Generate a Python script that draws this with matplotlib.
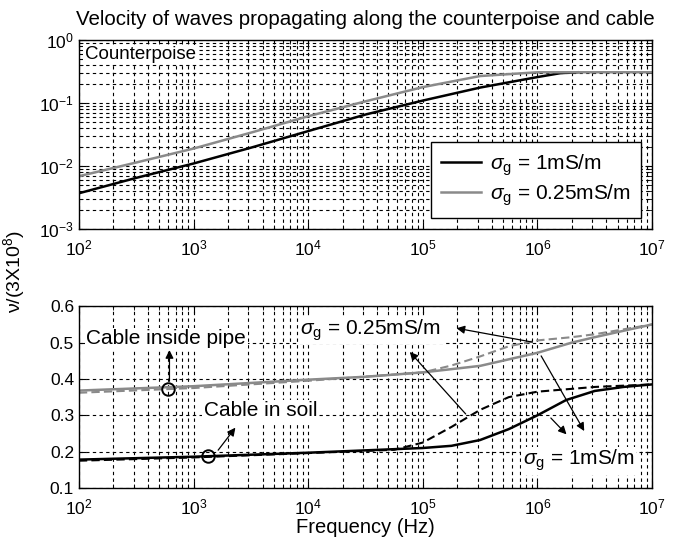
import numpy as np
import matplotlib
matplotlib.use("Agg")
import matplotlib.pyplot as plt

plt.rcParams['font.family'] = ['Liberation Sans', 'DejaVu Sans']
plt.rcParams['mathtext.fontset'] = 'custom'
plt.rcParams['mathtext.rm'] = 'Liberation Sans'
plt.rcParams['mathtext.it'] = 'Liberation Sans:italic'
plt.rcParams['mathtext.sf'] = 'Liberation Sans'

# ---- data ----
# Top panel: counterpoise
f_cp_1 = [1e2, 10**2.5, 1e3, 10**3.5, 1e4, 10**4.5, 1e5, 10**5.5, 1e6, 10**6.2, 10**6.35]
v_cp_1 = [0.0037, 0.0065, 0.011, 0.0196, 0.036, 0.066, 0.11, 0.177, 0.26, 0.30, 0.31]
f_cp_025 = [1e2, 10**2.5, 1e3, 10**3.5, 1e4, 10**4.5, 1e5, 10**5.5, 1e6, 1e7]
v_cp_025 = [0.0069, 0.0114, 0.019, 0.034, 0.062, 0.107, 0.18, 0.27, 0.31, 0.31]

# Bottom panel: cable inside pipe (grey) and cable in soil (black)
f_pipe_1 = [1e2, 1e3, 1e4, 10**4.5, 1e5, 10**5.5, 1e6, 10**6.3, 10**6.5, 1e7]
v_pipe_1 = [0.368, 0.38, 0.398, 0.406, 0.418, 0.436, 0.472, 0.50, 0.515, 0.550]
f_pipe_025 = [1e2, 1e3, 1e4, 1e5, 10**5.25, 10**5.5, 10**5.75, 1e6, 10**6.3, 10**6.5, 1e7]
v_pipe_025 = [0.362, 0.375, 0.395, 0.418, 0.437, 0.462, 0.490, 0.506, 0.515, 0.523, 0.550]
f_soil_1 = [1e2, 1e3, 1e4, 1e5, 10**5.25, 10**5.5, 10**5.75, 1e6, 10**6.25, 10**6.5, 10**6.75, 1e7]
v_soil_1 = [0.178, 0.186, 0.197, 0.21, 0.216, 0.232, 0.262, 0.30, 0.342, 0.367, 0.378, 0.385]
f_soil_025 = [1e2, 1e3, 1e4, 10**4.75, 1e5, 10**5.25, 10**5.5, 10**5.75, 1e6, 10**6.5, 1e7]
v_soil_025 = [0.175, 0.184, 0.196, 0.205, 0.225, 0.268, 0.315, 0.350, 0.365, 0.378, 0.385]

title = "Velocity of waves propagating along the counterpoise and cable"
leg_labels = [r"$\sigma_\mathrm{g}$ = 1mS/m", r"$\sigma_\mathrm{g}$ = 0.25mS/m"]
bottom_yticks = [0.1, 0.2, 0.3, 0.4, 0.5, 0.6]

GREY = '#8a8a8a'
grid_kw = dict(color='black', linestyle=(0, (3, 3)), linewidth=0.8)

fig = plt.figure(figsize=(6.8, 5.44), dpi=100)
ax1 = fig.add_axes([0.116, 0.579, 0.843, 0.347])
ax2 = fig.add_axes([0.116, 0.103, 0.843, 0.334])

for ax in (ax1, ax2):
    ax.set_xscale('log')
    ax.set_xlim(1e2, 1e7)
    ax.tick_params(which='both', direction='in', top=True, right=True, labelsize=12.5)
    ax.tick_params(axis='x', which='major', pad=7)
    ax.tick_params(which='major', length=5)
    ax.tick_params(which='minor', length=3)
    for s in ax.spines.values():
        s.set_linewidth(1.0)

# top panel
ax1.set_yscale('log')
ax1.set_ylim(1e-3, 1e0)
ax1.grid(True, which='both', **grid_kw)
l1, = ax1.plot(f_cp_1, v_cp_1, color='black', lw=1.8)
l2, = ax1.plot(f_cp_025, v_cp_025, color=GREY, lw=1.8)
ax1.set_title(title, fontsize=14.8, pad=11)
ax1.text(0.01, 0.925, "Counterpoise", transform=ax1.transAxes, fontsize=13.5,
         va='center', ha='left', bbox=dict(facecolor='white', edgecolor='none', pad=1))
leg = ax1.legend([l1, l2], leg_labels, loc='lower right', bbox_to_anchor=(0.981, 0.058),
                 borderaxespad=0, fontsize=15, fancybox=False, edgecolor='black', framealpha=1,
                 handlelength=1.9, handletextpad=0.45, borderpad=0.5, labelspacing=0.2)
leg.get_frame().set_linewidth(1.0)

# bottom panel
ax2.set_ylim(0.1, 0.6)
ax2.set_yticks(bottom_yticks)
ax2.set_yticklabels([f"{t:.1f}" for t in bottom_yticks])
ax2.grid(True, which='major', axis='y', **grid_kw)
ax2.grid(True, which='both', axis='x', **grid_kw)
ax2.plot(f_pipe_1, v_pipe_1, color=GREY, lw=1.8)
ax2.plot(f_pipe_025, v_pipe_025, color=GREY, lw=1.5, linestyle=(0, (4, 2)))
ax2.plot(f_soil_1, v_soil_1, color='black', lw=1.8)
ax2.plot(f_soil_025, v_soil_025, color='black', lw=1.5, linestyle=(0, (4, 2)))
ax2.set_xlabel("Frequency (Hz)", fontsize=14.5, labelpad=0)

tb = dict(facecolor='white', edgecolor='none', pad=1)
ax2.text(10**2.065, 0.511, "Cable inside pipe", fontsize=15, ha='left', va='center', bbox=tb)
ax2.text(10**3.09, 0.312, "Cable in soil", fontsize=15, ha='left', va='center', bbox=tb)
ax2.text(10**3.93, 0.535, r"$\sigma_\mathrm{g}$ = 0.25mS/m", fontsize=15, ha='left', va='center', bbox=tb)
ax2.text(10**5.87, 0.175, r"$\sigma_\mathrm{g}$ = 1mS/m", fontsize=15, ha='left', va='center', bbox=tb)

# circles
ax2.plot([10**2.78], [0.373], marker='o', ms=9, mfc='none', mec='black', mew=1.4)
ax2.plot([10**3.13], [0.187], marker='o', ms=9, mfc='none', mec='black', mew=1.4)

ap = dict(arrowstyle='-|>', color='black', lw=0.9, mutation_scale=12)
ax2.annotate("", xy=(10**2.79, 0.487), xytext=(10**2.79, 0.386), arrowprops=ap)
ax2.annotate("", xy=(10**3.38, 0.272), xytext=(10**3.2, 0.198), arrowprops=ap)
ax2.annotate("", xy=(10**5.27, 0.541), xytext=(10**5.98, 0.50), arrowprops=ap)
ax2.annotate("", xy=(10**4.87, 0.48), xytext=(10**5.39, 0.298), arrowprops=ap)
ax2.annotate("", xy=(10**6.27, 0.242), xytext=(10**6.1, 0.298), arrowprops=ap)
ax2.annotate("", xy=(10**6.42, 0.25), xytext=(10**6.02, 0.47), arrowprops=ap)

fig.text(0.02, 0.5, "ν/(3X10$^8$)", rotation=90, fontsize=14, ha='center', va='center')

fig.savefig("out.png", dpi=100)
